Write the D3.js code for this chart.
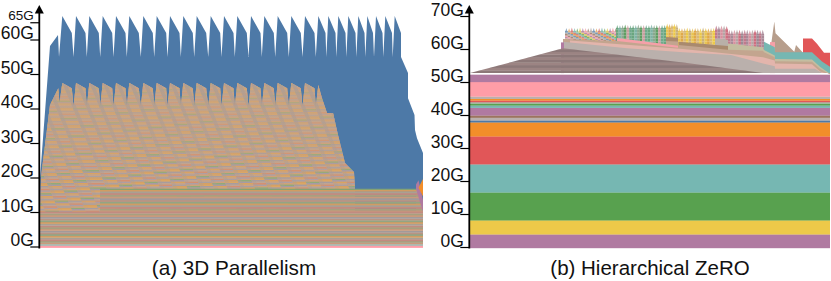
<!DOCTYPE html>
<html>
<head>
<meta charset="utf-8">
<script src="https://cdn.jsdelivr.net/npm/d3@7"></script>
<style>
  html, body { margin: 0; padding: 0; background: #fff; }
  text { font-family: "Liberation Sans", Arial, sans-serif; fill: #111; }
</style>
</head>
<body>
<div class="viz"></div>
<script>
// ---- left chart, x is time step, y is GB
const leftTicks = [0, 10, 20, 30, 40, 50, 60, 65]
const rightTicks = [0, 10, 20, 30, 40, 50, 60, 70]

const bluePeakT = [22.3, 36, 49.3, 62.7, 76, 89.3, 103.3, 116.7, 130, 143.3, 156.7, 170.7, 184, 197.3, 211, 224.3, 237.7, 251.3, 265, 278.3, 288.3, 298.3, 308.3, 318.3, 327.3, 336, 345.3, 354.7]
const blueShoulderT = [31.8, 45.5, 58.8, 72.2, 85.5, 98.8, 112.8, 126.2, 139.5, 152.8, 166.2, 180.2, 193.5, 206.8, 220.5, 233.8, 247.2, 260.8, 274.5, 285.5, 295.5, 305.5, 315.5, 324.5, 333, 342.5, 352, 361]
const blueValleyT = [33.5, 46.8, 60.2, 73.5, 86.8, 100.8, 114.2, 127.5, 140.8, 154.2, 168.2, 181.5, 194.8, 208.5, 221.8, 235.2, 248.8, 262.5, 275.8, 286.3, 296.3, 306.3, 316.3, 325.3, 334, 343.3, 352.7]
const bluePeakG = 66.8, blueShoulderG = 61.9, blueValleyG = 54.9
const blueStart = [[0, 19.9], [10, 58.1], [18, 61.3], [19, 54.9]]
const blueEnd = [[361, 54.9], [368, 50.3], [368, 43], [374.5, 38.1], [375, 33.8], [377, 31.4], [383, 27.1], [383, 10]]

const tanPeakG = 47.4, tanShoulderG = 45.9, tanValleyG = 40.4
const tanStart = [[0, 10], [1, 20.1], [10, 41], [18.3, 45.9], [19.5, 41.6]]
const tanEnd = [[278.3, 46.8], [282, 43], [287, 38.7], [293, 38.7], [298, 32.3], [305, 24.2], [314, 21.6], [315, 16.7], [315, 10]]
const tanTeeth = 19
const seamExtra = [-62, -48.5, -35, -21.5, -8, 5.5]

const midTop = [[60, 16.7], [376, 16.7], [383, 10]]
const purpleSliver = [[376, 18], [378.5, 19.2], [383, 13.5], [383, 10], [381, 10]]
const orangeSliver = [[378.5, 17], [383, 19.6], [383, 14.5]]

const toothColors = ['#d6a062', '#a99fa2', '#c7a387', '#dba25f', '#a39aa8', '#8faa78', '#cfa278', '#ad9da6', '#d58f6f', '#bfa494', '#a59ca0', '#dca662']
const flatColors = ['#c99a7b', '#a7a07f', '#c28b80', '#a9a094', '#d19c63', '#93a583', '#b99483', '#a19a9b']

// ---- right chart
const bandHeights = [4.15, 4.24, 8.48, 8.5, 8.48, 4.24, 0.6, 0.8, 0.7, 2.33, 0.7, 0.6, 0.4, 0.5, 0.5, 0.7, 4.4, 2.2]
const bandColors = ['#b07aa1', '#edc948', '#59a14f', '#76b7b2', '#e15759', '#f28e2b', '#4e79a7', '#bab0ac', '#9c755f', '#b07aa1', '#76b7b2', '#59a14f', '#a9b5a8', '#e15759', '#f28e2b', '#bab0ac', '#ff9da7', '#b07aa1']
const bandBase = -0.3

const wedgeTop = [[0, 52.7], [93, 60.2], [215, 55.8], [293, 52.7]]
const wedgeColors = ['#8c7878', '#9c8483']

const spikes1 = [66.4, 66.3, 66.5, 66.4, 66.3, 66.5, 66.4, 66.4, 66.3, 66.5, 66.4, 66.3, 66.4, 66.5, 66.3, 66.4, 66.4, 66.5, 66.3]
const spikes2 = [67.3, 67.2, 67.3, 67.4, 67.3, 67.2, 67.3, 67.3, 67.4, 67.2, 67.3, 67.3, 67.2, 67.4, 67.3, 67.3, 67.2, 67.3, 67.3]
const spikes3 = [67.7, 67.6, 67.7, 67.7, 67.6]
const spikes4 = [66.4, 66.3, 66.4, 66.5, 66.4, 66.3, 66.4, 66.4, 66.3, 66.5, 66.4, 66.3, 66.4, 66.4]
const spikes5 = [67.1, 67, 67.1, 67.1, 67]
const spikes6 = [65.8, 65.7, 65.8, 65.9, 65.8, 65.7, 65.8, 65.8, 65.7, 65.8, 65.9, 65.8, 65.7, 65.8]

const mixedColors = ['#7b9ab8', '#e6a258', '#d9807f', '#8cbdb5', '#7fb06f', '#e5cf6c', '#b98fae', '#f2a8ae', '#a98a78', '#bdb5b0']
const greenColors = ['#6aa67f', '#7fb3a5', '#8aa88f', '#5f9e63', '#c9a0a0', '#6fa98c']
const yellowColors = ['#e8c452', '#e0a94a', '#d8b878', '#edc948', '#c9b07a']
const mauveColors = ['#c07a8c', '#a98a98', '#d7909e', '#b7a5a5', '#cf6f80', '#9c8a94']

const spikeSets = [
  { t0: 95, t1: 147, peaks: spikes1, colors: mixedColors, shift: 1 },
  { t0: 146, t1: 196, peaks: spikes2, colors: greenColors, shift: 0 },
  { t0: 196, t1: 208, peaks: spikes3, colors: yellowColors, shift: 0 },
  { t0: 208, t1: 245, peaks: spikes4, colors: yellowColors, shift: 0 },
  { t0: 245, t1: 258, peaks: spikes5, colors: mauveColors, shift: 0 },
  { t0: 258, t1: 294, peaks: spikes6, colors: mauveColors, shift: 0 }
]

// upper layers, painted back to front, each runs down to the top of the flat bands
const upperLayers = [
  { fill: '#b79e8c', top: [[301.5, 62.2], [304.3, 68.3], [305.5, 64.8], [324.3, 59.2], [326, 61.2], [333, 58.9]] },
  { fill: '#f6a0a8', top: [[300, 62.1], [305, 62.1]] },
  { fill: '#e15759', top: [[333, 63.2], [342, 63.2], [347, 61.6], [354, 58.9], [360, 58.9]] },
  { fill: '#76b7b2', top: [[294, 62.2], [304.8, 60.5], [305, 59], [342, 59], [352, 56.2], [360, 54.6]] },
  { fill: '#b9b0a8', top: [[245, 63.2], [258, 62.8]] },
  { fill: '#a98a6e', top: [[196, 63.6], [208, 63.4]] },
  { fill: '#c3a58f', top: [[196, 62.4], [208, 62.3]] },
  { fill: '#a98a6e', top: [[208.5, 62.2], [258, 60.9]] },
  { fill: '#f6a0a8', top: [[147, 63.3], [208, 61]] },
  { fill: '#c4bda0', top: [[258, 61.7], [293, 60.5], [294, 59.7], [304.8, 58], [305, 57], [342, 56.8], [350, 54.6], [360, 52.5]] },
  { fill: '#c3a58f', top: [[93, 63], [147, 62.4], [208, 60.4], [208.5, 61.2], [258, 59.8], [293, 59.5], [294, 59], [304.8, 57.5], [305, 56.3], [342, 56.1], [350, 54], [360, 52.3]] },
  { fill: '#e3b5ac', top: [[100, 62.6], [213, 60], [293, 57.5], [304.8, 56.5], [305, 55.6], [342, 55.4], [350, 53.2], [355, 52.7]] },
  { fill: '#bab0ac', top: [[93, 62.2], [157, 60.2], [213, 59], [261, 58.2], [293, 55.6], [304.8, 54.8], [305, 54], [345, 54], [352, 52.7]] }
]
const purpleTab = [[91, 62], [94, 62]]

const width = 831, height = 281

const svg = d3.select('.viz').append('svg')
  .attr('width', width)
  .attr('height', height)
  .style('display', 'block')

const defs = svg.append('defs')

// the reference is a soft raster, so the marks get a small blur
defs.append('filter').attr('id', 'soft')
  .attr('x', '-2%').attr('y', '-2%').attr('width', '104%').attr('height', '104%')
  .append('feGaussianBlur').attr('stdDeviation', 0.4)

const fade = defs.append('linearGradient').attr('id', 'tan-fade')
  .attr('x1', 0).attr('x2', 0).attr('y1', 0).attr('y2', 1)
fade.append('stop').attr('offset', 0).attr('stop-color', '#c9a583').attr('stop-opacity', 0.7)
fade.append('stop').attr('offset', 0.55).attr('stop-color', '#c9a583').attr('stop-opacity', 0.4)
fade.append('stop').attr('offset', 1).attr('stop-color', '#c9a583').attr('stop-opacity', 0)

const seamFade = defs.append('linearGradient').attr('id', 'seam-fade')
  .attr('x1', 0).attr('x2', 0).attr('y1', 0).attr('y2', 1)
seamFade.append('stop').attr('offset', 0).attr('stop-color', '#ad9d94').attr('stop-opacity', 0.75)
seamFade.append('stop').attr('offset', 0.8).attr('stop-color', '#ad9d94').attr('stop-opacity', 0.35)
seamFade.append('stop').attr('offset', 1).attr('stop-color', '#ad9d94').attr('stop-opacity', 0.1)

const leftX = d3.scaleLinear().domain([0, 383]).range([40, 423])
const leftY = d3.scaleLinear().domain([0, 70]).range([246.5, 5])
const rightX = d3.scaleLinear().domain([0, 360]).range([470, 830])
const rightY = d3.scaleLinear().domain([0, 70]).range([247, 16])

const leftArea = (base) => d3.area().x(d => leftX(d[0])).y0(leftY(base)).y1(d => leftY(d[1]))
const rightArea = (base) => d3.area().x(d => rightX(d[0])).y0(rightY(base)).y1(d => rightY(d[1]))

// stripes over a clip shape
const stripes = (g, colors, x0, x1, gLo, gHi, step, xs, ys) => {
  g.selectAll('rect')
    .data(d3.range(gLo, gHi, step))
    .enter()
    .append('rect')
    .attr('x', xs(x0))
    .attr('width', xs(x1) - xs(x0))
    .attr('y', d => ys(d + step) - 0.15)
    .attr('height', d => ys(d) - ys(d + step) + 0.3)
    .attr('fill', (d, i) => colors[i % colors.length])
}

// ---- left chart marks
const left = svg.append('g').attr('filter', 'url(#soft)')

const blueTop = blueStart
  .concat(bluePeakT.flatMap((t, i) => {
    const pts = [[t, bluePeakG], [blueShoulderT[i], blueShoulderG]]
    if (i < blueValleyT.length) pts.push([blueValleyT[i], blueValleyG])
    return pts
  }))
  .concat(blueEnd)

left.append('path')
  .attr('d', leftArea(10)(blueTop))
  .attr('fill', '#4e79a7')

const tanTop = tanStart
  .concat(d3.range(tanTeeth).flatMap(i => [
    [bluePeakT[i], tanPeakG],
    [blueShoulderT[i], tanShoulderG],
    [blueValleyT[i], tanValleyG]
  ]))
  .concat(tanEnd)

defs.append('clipPath').attr('id', 'tan-clip')
  .append('path').attr('d', leftArea(10)(tanTop))

left.append('path')
  .attr('d', leftArea(10)(tanTop))
  .attr('fill', '#c4a58c')

// rows inside the teeth, each seam runs down and to the right
const seams = seamExtra.concat(bluePeakT.slice(0, 20), [292])
const seamSlope = 0.42 * (leftY(0) - leftY(1))
const seamAt = (t, g) => t + seamSlope * (tanPeakG - g)
const rowStep = 0.42
const rows = d3.range(10, 47.6, rowStep)
const rowLine = d3.line().x(d => leftX(d[0])).y(d => leftY(d[1]))

const tanRows = left.append('g').attr('clip-path', 'url(#tan-clip)')
rows.forEach((g, r) => {
  d3.pairs(seams).forEach(([a, b], i) => {
    const hi = g + rowStep + 0.04
    tanRows.append('path')
      .attr('d', rowLine([[seamAt(a, g), g], [seamAt(b, g), g], [seamAt(b, hi), hi], [seamAt(a, hi), hi]]) + 'Z')
      .attr('fill', toothColors[(r + i * 5) % toothColors.length])
  })
})

// tone the top of the teeth down and bring out the diagonal seams
tanRows.append('rect')
  .attr('x', leftX(0)).attr('width', leftX(320) - leftX(0))
  .attr('y', leftY(tanPeakG)).attr('height', leftY(16.7) - leftY(tanPeakG))
  .attr('fill', 'url(#tan-fade)')

seams.forEach(t => {
  tanRows.append('path')
    .attr('d', rowLine([[seamAt(t, tanPeakG), tanPeakG], [seamAt(t + 4, tanPeakG), tanPeakG], [seamAt(t + 4, 10), 10], [seamAt(t, 10), 10]]) + 'Z')
    .attr('fill', 'url(#seam-fade)')
})

defs.append('clipPath').attr('id', 'mid-clip')
  .append('path').attr('d', leftArea(10)(midTop))

left.append('path').attr('d', leftArea(10)(purpleSliver)).attr('fill', '#b07aa1')
left.append('path').attr('d', leftArea(10)(orangeSliver.concat([[378.5, 17]]))).attr('fill', '#f28e2b')

const midG = left.append('g').attr('clip-path', 'url(#mid-clip)')
stripes(midG, flatColors, 60, 383, 10, 16.7, 0.5, leftX, leftY)
left.append('line')
  .attr('x1', leftX(60)).attr('x2', leftX(376))
  .attr('y1', leftY(16.6)).attr('y2', leftY(16.6))
  .attr('stroke', '#7fa36f').attr('stroke-width', 1.2)

const baseG = left.append('g')
stripes(baseG, flatColors, 0, 383, 0.6, 10.1, 0.5, leftX, leftY)
left.append('rect').attr('x', leftX(0)).attr('width', leftX(383) - leftX(0))
  .attr('y', leftY(0.6)).attr('height', leftY(0.2) - leftY(0.6)).attr('fill', '#8cb0a8')
left.append('rect').attr('x', leftX(0)).attr('width', leftX(383) - leftX(0))
  .attr('y', leftY(0.2)).attr('height', leftY(-0.4) - leftY(0.2)).attr('fill', '#ff9da7')

// ---- right chart marks
const right = svg.append('g').attr('filter', 'url(#soft)')

// spikes first, the bands below cover their feet
spikeSets.forEach(set => {
  const band = d3.scaleBand().domain(d3.range(set.peaks.length)).range([rightX(set.t0), rightX(set.t1)])
  const rowH = 0.45
  set.peaks.forEach((peak, i) => {
    const low = peak - 1.3
    const x = band(i), w = band.bandwidth()
    right.append('path')
      .attr('d', d3.line()([[x, rightY(low)], [x + w / 2, rightY(peak)], [x + w, rightY(low)]]) + 'Z')
      .attr('fill', set.colors[i % set.colors.length])
      .attr('opacity', 0.8)
    d3.range(56, low, rowH).forEach((g, r) => {
      right.append('rect')
        .attr('x', x).attr('width', w + 0.1)
        .attr('y', rightY(g + rowH)).attr('height', rightY(g) - rightY(g + rowH) + 0.1)
        .attr('fill', set.colors[(i + r * set.shift) % set.colors.length])
    })
  })
})

upperLayers.forEach(layer => {
  right.append('path')
    .attr('d', rightArea(52.7)(layer.top))
    .attr('fill', layer.fill)
})

defs.append('clipPath').attr('id', 'wedge-clip')
  .append('path').attr('d', rightArea(52.7)(wedgeTop))

right.append('path').attr('d', rightArea(52.7)(purpleTab)).attr('fill', '#b07aa1')

const wedgeG = right.append('g').attr('clip-path', 'url(#wedge-clip)')
stripes(wedgeG, wedgeColors, 0, 293, 52.7, 60.3, 0.8, rightX, rightY)

const bandTops = d3.cumsum(bandHeights)
right.selectAll('rect.band')
  .data(bandHeights)
  .enter()
  .append('rect')
  .attr('class', 'band')
  .attr('x', rightX(0))
  .attr('width', rightX(360) - rightX(0))
  .attr('y', (d, i) => rightY(bandBase + bandTops[i]))
  .attr('height', d => rightY(0) - rightY(d) + 0.2)
  .attr('fill', (d, i) => bandColors[i])

// ---- axes
const drawAxis = (x, yScale, ticks) => {
  const g = svg.append('g').attr('transform', `translate(${x}, 0)`)
  g.call(d3.axisLeft(yScale).tickValues(ticks).tickSize(9).tickFormat(d => d + 'G'))
  g.select('.domain').remove()
  g.selectAll('.tick line').attr('stroke', '#000').attr('stroke-width', 1.2)
  g.selectAll('.tick text')
    .attr('x', -5.5)
    .attr('dy', -1)
    .style('font-size', d => d === 65 ? '13.5px' : '17.5px')
  g.append('line')
    .attr('y1', 248.5).attr('y2', 12)
    .attr('stroke', '#000').attr('stroke-width', 1.8)
  g.append('path')
    .attr('d', 'M0,5L4.5,13.5L-4.5,13.5Z')
    .attr('fill', '#000')
  return g
}

const leftAxis = drawAxis(39.3, leftY, leftTicks)
leftAxis.selectAll('.tick text').filter(d => d === 65).attr('dy', -3)
drawAxis(469.3, rightY, rightTicks)

// ---- captions
svg.append('text')
  .text('(a) 3D Parallelism')
  .attr('text-anchor', 'middle')
  .attr('x', 234).attr('y', 275)
  .style('font-size', '20.7px')

svg.append('text')
  .text('(b) Hierarchical ZeRO')
  .attr('text-anchor', 'middle')
  .attr('x', 650).attr('y', 275)
  .style('font-size', '20.5px')
</script>
</body>
</html>
